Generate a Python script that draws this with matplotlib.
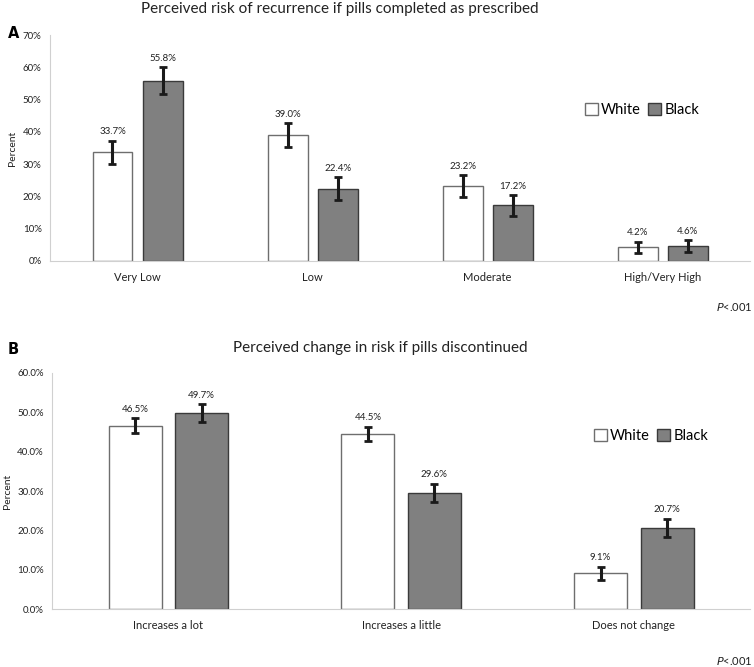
import matplotlib
matplotlib.use("Agg")
import matplotlib.pyplot as plt
import numpy as np
from matplotlib.patches import Patch

plt.rcParams['font.family'] = ['Lato', 'DejaVu Sans']

# Panel A data
cats_a = ["Very Low", "Low", "Moderate", "High/Very High"]
white_a = [33.7, 39.0, 23.2, 4.2]
black_a = [55.8, 22.4, 17.2, 4.6]
white_a_err = [3.5, 3.6, 3.3, 1.8]
black_a_err = [4.2, 3.6, 3.2, 1.8]
yticks_a = [0, 10, 20, 30, 40, 50, 60, 70]

# Panel B data
cats_b = ["Increases a lot", "Increases a little", "Does not change"]
white_b = [46.5, 44.5, 9.1]
black_b = [49.7, 29.6, 20.7]
white_b_err = [1.9, 1.8, 1.7]
black_b_err = [2.3, 2.3, 2.3]
yticks_b = [0, 10, 20, 30, 40, 50, 60]

fig = plt.figure(figsize=(7.54, 6.67), dpi=100)

WHITE_FC = "#ffffff"
WHITE_EC = "#6e6e6e"
BLACK_FC = "#808080"
BLACK_EC = "#3a3a3a"

def panel(ax, cats, white, black, werr, berr, yticks, fmt, title, letter, legend_xy, title_xy, letter_xy, p_y):
    x = np.arange(len(cats))
    w = 0.228
    off = 0.143
    ax.bar(x - off, white, w, color=WHITE_FC, edgecolor=WHITE_EC, linewidth=1.0, zorder=2)
    ax.bar(x + off, black, w, color=BLACK_FC, edgecolor=BLACK_EC, linewidth=1.0, zorder=2)
    ax.errorbar(x - off, white, yerr=werr, fmt='none', ecolor='#1a1a1a', elinewidth=2.2, capsize=3, capthick=2, zorder=3)
    ax.errorbar(x + off, black, yerr=berr, fmt='none', ecolor='#1a1a1a', elinewidth=2.2, capsize=3, capthick=2, zorder=3)
    ymax = yticks[-1]
    for xi, v, e in zip(x - off, white, werr):
        ax.text(xi, v + e + ymax * 0.02, f"{v:.1f}%", ha='center', va='bottom', fontsize=7, color='#222222')
    for xi, v, e in zip(x + off, black, berr):
        ax.text(xi, v + e + ymax * 0.02, f"{v:.1f}%", ha='center', va='bottom', fontsize=7, color='#222222')
    ax.set_xlim(-0.5, len(cats) - 0.5)
    ax.set_ylim(0, ymax)
    ax.set_yticks(yticks)
    ax.set_yticklabels([fmt(t) for t in yticks], fontsize=7, color='#222222')
    ax.set_xticks(x)
    ax.set_xticklabels(cats, fontsize=8, color='#222222')
    ax.tick_params(axis='both', length=0, pad=8)
    ax.tick_params(axis='y', pad=6)
    for s in ['top', 'right']:
        ax.spines[s].set_visible(False)
    ax.spines['left'].set_color('#d0d0d0')
    ax.spines['bottom'].set_color('#d0d0d0')
    ax.set_ylabel("Percent", fontsize=7.5, color='#222222', labelpad=4)
    handles = [Patch(facecolor=WHITE_FC, edgecolor=WHITE_EC, label='White'),
               Patch(facecolor=BLACK_FC, edgecolor=BLACK_EC, label='Black')]
    fig.legend(handles=handles, loc='center left', bbox_to_anchor=legend_xy, ncol=2, frameon=False,
               fontsize=10.5, handlelength=0.9, handleheight=0.9, handletextpad=0.2, columnspacing=0.5,
               borderpad=0, borderaxespad=0)
    fig.text(title_xy[0], title_xy[1], title, ha='center', va='center', fontsize=11, color='#222222')
    fig.text(letter_xy[0], letter_xy[1], letter, ha='left', va='center', fontsize=10.5, fontweight='bold',
             family='DejaVu Sans')
    fig.text(0.998, p_y, r"$\it{P}$<.001", ha='right', va='center', fontsize=8, color='#222222')

ax_a = fig.add_axes([0.0663, 0.6087, 0.9287, 0.3388])
panel(ax_a, cats_a, white_a, black_a, white_a_err, black_a_err, yticks_a,
      lambda t: f"{t}%", "Perceived risk of recurrence if pills completed as prescribed", "A",
      (585 / 754, 1 - 110 / 667), (340 / 754, 1 - 9 / 667), (8 / 754, 1 - 34 / 667), 1 - 307 / 667)

ax_b = fig.add_axes([0.069, 0.0865, 0.926, 0.3547])
panel(ax_b, cats_b, white_b, black_b, white_b_err, black_b_err, yticks_b,
      lambda t: f"{t:.1f}%", "Perceived change in risk if pills discontinued", "B",
      (594 / 754, 1 - 436 / 667), (380 / 754, 1 - 348 / 667), (8 / 754, 1 - 349 / 667), 1 - 661 / 667)

fig.savefig("out.png", dpi=100)
